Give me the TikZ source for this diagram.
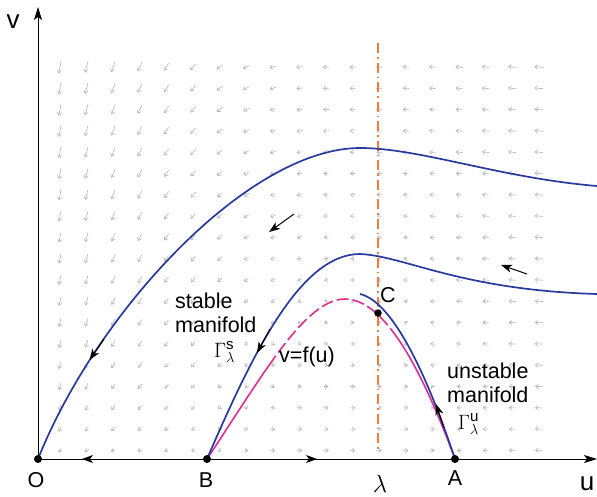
\documentclass[tikz,border=0pt]{standalone}
\usepackage{amsmath}
\usepackage{fontspec}
\setmainfont{Liberation Sans}
\usetikzlibrary{arrows.meta}
\definecolor{curveblue}{RGB}{40,58,160}
\definecolor{nullpink}{RGB}{222,45,145}
\definecolor{lamorange}{RGB}{242,125,60}
\definecolor{fieldgray}{RGB}{180,180,180}
\tikzset{
  fieldarrow/.style={draw=fieldgray, line width=0.6pt, -{Straight Barb[length=2.8pt,width=4.2pt]}},
  axistip/.style={draw=black, line width=0.9pt, -{Stealth[length=13pt,width=8pt,inset=3pt]}},
  flowtip/.style={draw=black, line width=1pt, -{Stealth[length=11pt,width=8pt,inset=3pt]}},
  bluecurve/.style={draw=curveblue, line width=1.7pt},
  pinkcurve/.style={draw=nullpink, line width=1.6pt},
  lamline/.style={draw=lamorange, line width=1.6pt, dash pattern=on 10pt off 4pt on 1.5pt off 4pt},
  dotpt/.style={circle, fill=black, inner sep=0pt, minimum size=8pt},
  lbl/.style={font=\fontsize{21.5}{24}\selectfont, inner sep=0pt},
  biglbl/.style={font=\fontsize{26}{28}\selectfont, inner sep=0pt},
  mlbl/.style={font=\fontsize{21.5}{24}\selectfont, inner sep=0pt, align=left, anchor=west}
}
\begin{document}
\begin{tikzpicture}[x=1pt,y=-1pt]
\useasboundingbox (0,0) rectangle (597,496);

% vector field
\foreach \i in {0,...,18}{
  \foreach \j in {0,...,18}{
    \pgfmathsetmacro\px{60+26.6*\i}
    \pgfmathsetmacro\py{67+21.3*\j}
    \pgfmathsetmacro\U{(\px-38)/417}
    \pgfmathsetmacro\V{(459-\py)/417}
    \pgfmathsetmacro\du{6*\U*(\U-0.405)*(1-\U)-\V}
    \pgfmathsetmacro\dl{0.815-\U}
    \pgfmathsetmacro\dv{(\dl>0) ? (-13.5*\V*\dl*\dl*\dl) : (-0.6*\V*\dl)}
    \pgfmathsetmacro\m{sqrt(\du*\du+\dv*\dv)}
    \pgfmathsetmacro\L{min(13,3+4.2*sqrt(\m))}
    \pgfmathsetmacro\ex{\L*\du/\m/2}
    \pgfmathsetmacro\ey{-\L*\dv/\m/2}
    \pgfmathsetmacro\xa{\px-(\ex)}
    \pgfmathsetmacro\ya{\py-(\ey)}
    \pgfmathsetmacro\xb{\px+(\ex)}
    \pgfmathsetmacro\yb{\py+(\ey)}
    \draw[fieldarrow] (\xa,\ya) -- (\xb,\yb);
  }
}

% key points
\coordinate (O) at (38,459);
\coordinate (B) at (207,459);
\coordinate (A) at (455,459);
\coordinate (C) at (378,313);
\coordinate (ytop) at (38,7);
\coordinate (xend) at (597,459);
\coordinate (lamtop) at (378,43);
\coordinate (lambot) at (378,452);
\coordinate (P1) at (360,148);
\coordinate (E1) at (597,186);
\coordinate (P2) at (360,254);
\coordinate (E2) at (597,294);
\coordinate (P3) at (360,294);
\coordinate (Pk) at (345,299);

% axes
\draw[axistip] (O) -- (ytop);
\draw[axistip] (O) -- (xend);

% lambda line
\draw[lamline] (lamtop) -- (lambot);

% null-cline v=f(u)
\def\pinkpath{(B) .. controls (262,376.5) and (305,299) .. (Pk) .. controls (390,299) and (430,391.5) .. (A)}
\begin{scope}
  \clip (0,0) rectangle (272,496) (392,0) rectangle (597,496);
  \draw[pinkcurve] \pinkpath;
\end{scope}
\begin{scope}
  \clip (272,0) rectangle (392,496);
  \draw[pinkcurve, dash pattern=on 12pt off 4pt] \pinkpath;
\end{scope}

% trajectories
\draw[bluecurve] (O) .. controls (98,309) and (250,148) .. (P1) .. controls (420,148) and (500,178) .. (E1);
\draw[bluecurve] (B) .. controls (252,355) and (300,254) .. (P2) .. controls (405,256) and (460,290) .. (E2);
\draw[bluecurve] (A) .. controls (423,363) and (390,301) .. (P3);

% flow arrows on curves
\coordinate (a1s) at (104,339);
\coordinate (a1e) at (89.5,360);
\draw[flowtip] (a1s) -- (a1e);
\coordinate (a2s) at (270,329);
\coordinate (a2e) at (257,353);
\draw[flowtip] (a2s) -- (a2e);
\coordinate (a3s) at (444,428);
\coordinate (a3e) at (436,404);
\draw[flowtip] (a3s) -- (a3e);
\coordinate (a4s) at (294,214);
\coordinate (a4e) at (269,232);
\draw[flowtip] (a4s) -- (a4e);
\coordinate (a5s) at (527,274);
\coordinate (a5e) at (501,265);
\draw[flowtip] (a5s) -- (a5e);
\coordinate (a6s) at (118,459);
\coordinate (a6e) at (82,459);
\draw[flowtip] (a6s) -- (a6e);
\coordinate (a7s) at (282,459);
\coordinate (a7e) at (317,459);
\draw[flowtip] (a7s) -- (a7e);

% dots
\node[dotpt] (dO) at (O) {};
\node[dotpt] (dB) at (B) {};
\node[dotpt] (dA) at (A) {};
\node[dotpt, minimum size=7.5pt] (dC) at (C) {};

% labels
\node[biglbl] (lv) at (13,22) {v};
\node[biglbl] (lu) at (587,484) {u};
\node[lbl] (lO) at (36,480) {O};
\node[lbl] (lB) at (206,480) {B};
\node[lbl] (lA) at (455,478) {A};
\node[lbl] (lC) at (388,295) {C};
\node[font=\fontsize{27}{28}\selectfont, inner sep=0pt] (llam) at (380,484) {$\lambda$};
\node[mlbl] (lstab) at (175,313) {stable\\manifold};
\node[lbl, anchor=base west] (lgs) at (214,357) {$\Gamma^{\text{s}}_{\lambda}$};
\node[lbl] (lfu) at (307,357) {v=f(u)};
\node[mlbl] (lunst) at (447,383) {unstable\\manifold};
\node[lbl, anchor=base west] (lgu) at (458,429) {$\Gamma^{\text{u}}_{\lambda}$};
\end{tikzpicture}
\end{document}
